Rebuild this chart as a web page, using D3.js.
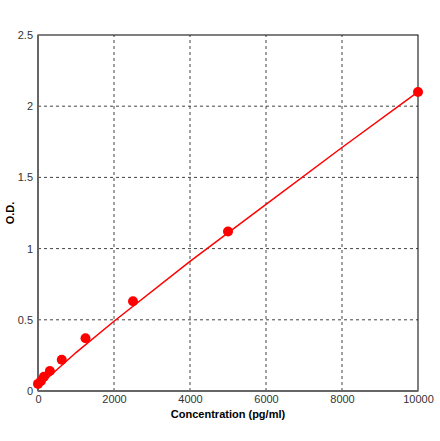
<!DOCTYPE html><html><head><script src="https://cdn.jsdelivr.net/npm/d3@7"></script>
<style>body{margin:0;background:#fff}text{font-family:"Liberation Sans",Arial,sans-serif}</style></head><body>
<svg id="c" width="440" height="441"></svg>
<script>
const concentration=[0,78,156,312,625,1250,2500,5000,10000];
const od=[0.05,0.07,0.1,0.14,0.22,0.37,0.63,1.12,2.1];
const fitX=[0,1000,2000,4000,6000,8000,10000];
const fitY=[0.03,0.27,0.49,0.91,1.31,1.71,2.1];
const xTicks=[0,2000,4000,6000,8000,10000];
const yTicks=[0,0.5,1,1.5,2,2.5];
const svg=d3.select("#c");
const x=d3.scaleLinear().domain([0,10000]).range([38,418]);
const y=d3.scaleLinear().domain([0,2.5]).range([391,35]);
const g=svg.append("g");
xTicks.slice(1,-1).forEach(t=>g.append("line").attr("x1",x(t)).attr("x2",x(t)).attr("y1",y(0)).attr("y2",y(2.5)).attr("stroke","#444").attr("stroke-dasharray","3,3"));
yTicks.slice(1,-1).forEach(t=>g.append("line").attr("y1",y(t)).attr("y2",y(t)).attr("x1",x(0)).attr("x2",x(10000)).attr("stroke","#444").attr("stroke-dasharray","3,3"));
g.append("rect").attr("x",38).attr("y",35).attr("width",380).attr("height",356).attr("fill","none").attr("stroke","#000");
g.append("line").attr("x1",38).attr("x2",38).attr("y1",35).attr("y2",391).attr("stroke","#666").attr("stroke-width",2);
g.append("line").attr("x1",38).attr("x2",418).attr("y1",391).attr("y2",391).attr("stroke","#666").attr("stroke-width",2);
const xa=svg.append("g").attr("transform","translate(0,391)").call(d3.axisBottom(x).tickValues(xTicks).tickSize(0).tickPadding(4).tickFormat(d3.format("d")));
const ya=svg.append("g").attr("transform","translate(38,0)").call(d3.axisLeft(y).tickValues(yTicks).tickSize(0).tickPadding(5).tickFormat(d=>String(d)));
[xa,ya].forEach(a=>{a.select(".domain").remove();a.selectAll("text").attr("font-size",11).attr("fill","#333").style("font-family","Liberation Sans,Arial")});
svg.append("path").datum(fitX.map((v,i)=>[v,fitY[i]])).attr("d",d3.line().x(d=>x(d[0])).y(d=>y(d[1]))).attr("fill","none").attr("stroke","red").attr("stroke-width",1.5);
svg.selectAll("circle.p").data(concentration).enter().append("circle").attr("cx",d=>x(d)).attr("cy",(d,i)=>y(od[i])).attr("r",5).attr("fill","red");
svg.append("text").attr("x",228).attr("y",418).attr("text-anchor","middle").attr("font-size",11).attr("font-weight","bold").text("Concentration (pg/ml)");
svg.append("text").attr("transform","translate(14,213) rotate(-90)").attr("text-anchor","middle").attr("font-size",11).attr("font-weight","bold").text("O.D.");
</script></body></html>
